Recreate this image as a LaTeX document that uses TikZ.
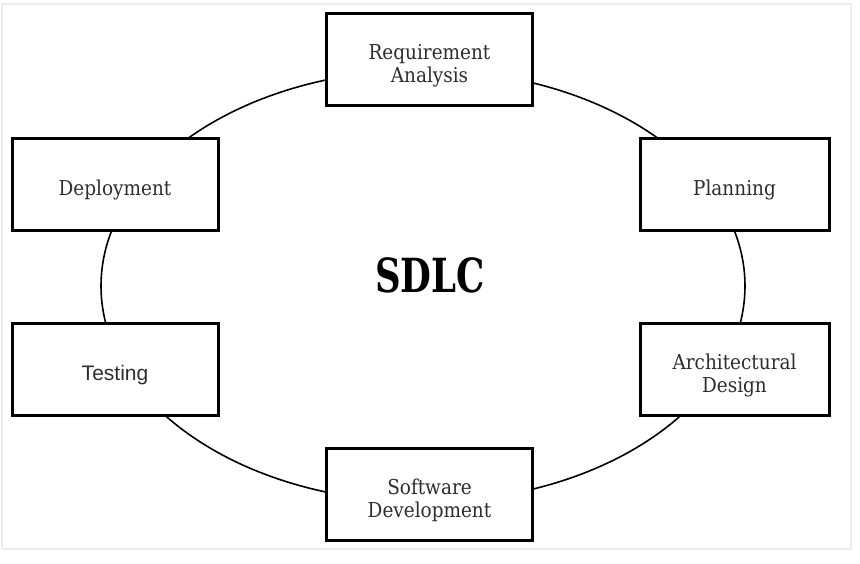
\documentclass[tikz,border=0pt]{standalone}
\usepackage{fontspec}
\setmainfont{DejaVu Serif Condensed}
\newfontfamily\arialfont{Liberation Sans}
\definecolor{framegray}{RGB}{236,236,236}
\definecolor{inkgray}{RGB}{45,45,45}
\tikzset{
  phase/.style={draw, line width=3pt, fill=white, inner sep=0pt,
    minimum height=92pt, align=center, text=inkgray,
    font=\fontsize{20.5}{22.5}\selectfont},
  oneline/.style={text height=22pt, text depth=0pt},
  twoline/.style={text height=46pt, text depth=0pt},
  widephase/.style={phase, minimum width=206pt},
  narrowphase/.style={phase, minimum width=189pt}
}

\begin{document}
\begin{tikzpicture}[x=1pt,y=-1pt]

  \useasboundingbox (0,0) rectangle (860,563);
  %% outer frame
  \draw[framegray, line width=1.5pt] (2,4) rectangle (851,549);

  %% cycle
  \draw[line width=1.6pt] (423,286) ellipse [x radius=322, y radius=216];

  %% title
  \node (sdlc) at (430,275)
  {\scalebox{0.84}[1]{\fontsize{47}{50}\selectfont\bfseries SDLC}};

  %% phases
  \node[widephase,twoline]   (req)    at (429.5, 59) {Requirement\\Analysis};
  \node[narrowphase,oneline] (plan)   at (734.5,184) {Planning};
  \node[narrowphase,twoline] (arch)   at (734.5,369) {Architectural\\Design};
  \node[widephase,twoline]   (soft)   at (429.5,494) {Software\\Development};
  \node[widephase,oneline]   (test)   at (115,369)
  {\arialfont\fontsize{21}{22}\selectfont Testing};
  \node[widephase,oneline]   (deploy) at (115,184)   {Deployment};

\end{tikzpicture}
\end{document}
